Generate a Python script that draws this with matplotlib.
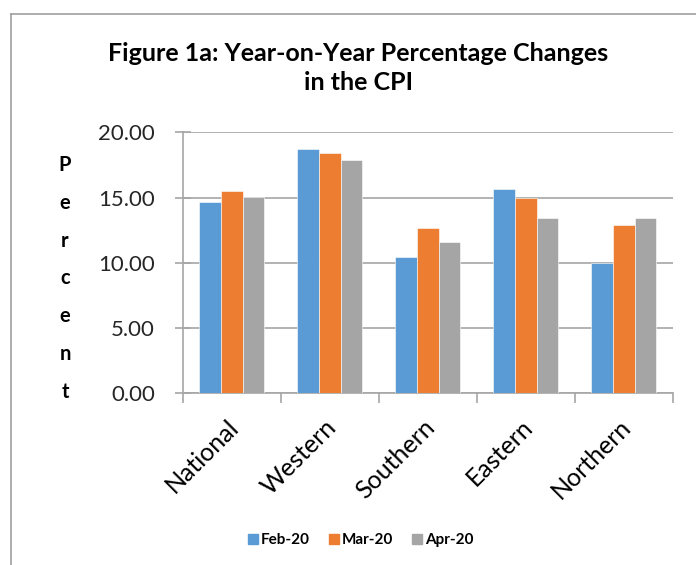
import matplotlib
matplotlib.use("Agg")
import matplotlib.pyplot as plt
import numpy as np
from matplotlib.lines import Line2D
from matplotlib.transforms import ScaledTranslation

plt.rcParams['font.family'] = ['Lato', 'DejaVu Sans']

categories = ["National", "Western", "Southern", "Eastern", "Northern"]
series_names = ["Feb-20", "Mar-20", "Apr-20"]
feb = [14.65, 18.74, 10.41, 15.63, 10.00]
mar = [15.52, 18.39, 12.68, 14.99, 12.87]
apr = [15.01, 17.88, 11.59, 13.45, 13.45]
yticks = [0, 5, 10, 15, 20]
title = "Figure 1a: Year-on-Year Percentage Changes\nin the CPI"
ylabel = "Percent"

colors = ["#5B9BD5", "#ED7D31", "#A5A5A5"]
W, H = 696, 565
fig = plt.figure(figsize=(W / 100, H / 100), dpi=100)

ax = fig.add_axes([182.7 / W, 1 - 393.1 / H, 490 / W, 260.8 / H])
x = np.arange(len(categories))
w = 1 / 4.5
for i, (vals, c, n) in enumerate(zip([feb, mar, apr], colors, series_names)):
    ax.bar(x + (i - 1) * w, vals, width=w, color=c, label=n, zorder=3,
           edgecolor="white", linewidth=0.4)

ax.set_xlim(-0.5, len(categories) - 0.5)
ax.set_ylim(0, 20)
ax.set_yticks(yticks)
ax.set_yticklabels([f"{v:.2f}" for v in yticks], fontsize=16, color="#262626")
ax.yaxis.grid(True, color="#A6A6A6", linewidth=1.2, zorder=0)
ax.set_axisbelow(True)
for s in ["top", "right"]:
    ax.spines[s].set_visible(False)
for s in ["left", "bottom"]:
    ax.spines[s].set_color("#A6A6A6")
    ax.spines[s].set_linewidth(1.2)
ax.tick_params(axis="y", direction="inout", length=12, color="#A6A6A6", width=1.2, pad=14)
ax.set_xticks(np.arange(len(categories) + 1) - 0.5, minor=False)
ax.set_xticklabels([])
ax.tick_params(axis="x", direction="out", length=7, color="#A6A6A6", width=1.2)
ax.set_xticks(x, minor=True)
labels = ax.set_xticklabels(categories, minor=True, rotation=45, ha="right", va="top",
                            rotation_mode="anchor", fontsize=18, color="#000000")
ax.tick_params(axis="x", which="minor", length=0, pad=16)
shift = ScaledTranslation(-5 / 100, 0, fig.dpi_scale_trans)
for lab in labels:
    lab.set_transform(lab.get_transform() + shift)

fig.text(358 / W, 1 - 68 / H, title, ha="center", va="center", fontsize=18,
         fontweight="bold", linespacing=1.3)

ys = np.linspace(165, 392, len(ylabel))
for ch, yy in zip(ylabel, ys):
    fig.text(65 / W, 1 - yy / H, ch, ha="center", va="center", fontsize=14.5,
             fontweight="bold")

handles = [Line2D([], [], marker="s", linestyle="none", markersize=7,
                  markerfacecolor=c, markeredgecolor=c) for c in colors]
leg = fig.legend(handles, series_names, loc="center", bbox_to_anchor=(360 / W, 1 - 540 / H),
                 ncol=3, frameon=False, prop={"weight": "bold", "size": 11},
                 handletextpad=0.1, columnspacing=1.2, handlelength=0.8)

fig.add_artist(Line2D([11 / W, 11 / W], [0, 1 - 14 / H], transform=fig.transFigure,
                      color="#A0A0A0", linewidth=1.2))
fig.add_artist(Line2D([11 / W, 1], [1 - 14 / H, 1 - 14 / H], transform=fig.transFigure,
                      color="#A0A0A0", linewidth=1.2))

fig.savefig("out.png", dpi=100)
